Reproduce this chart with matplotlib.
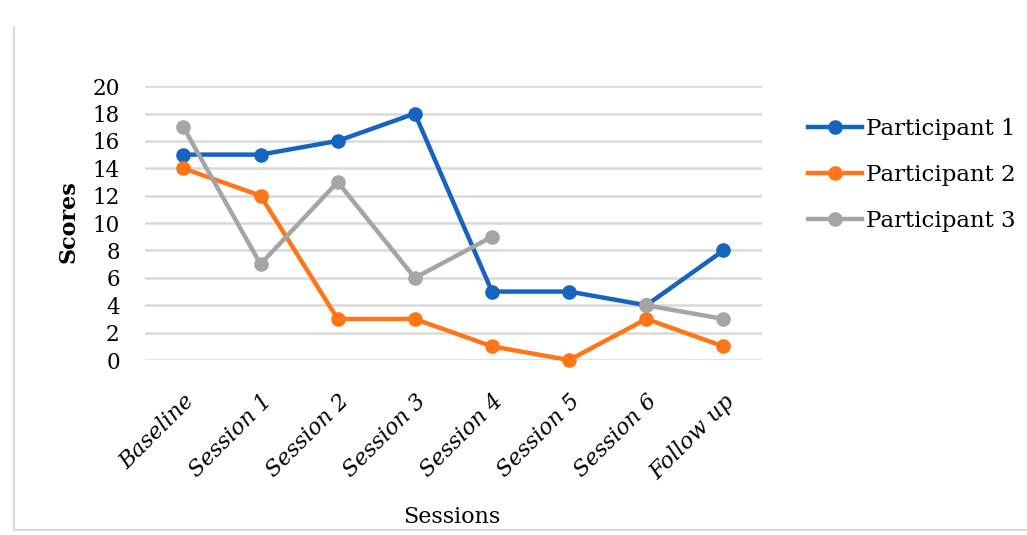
import numpy as np
import matplotlib.pyplot as plt
from matplotlib.lines import Line2D

plt.rcParams['font.family'] = ['DejaVu Serif']

sessions = ['Baseline', 'Session 1', 'Session 2', 'Session 3', 'Session 4',
            'Session 5', 'Session 6', 'Follow up']
participant1 = [15, 15, 16, 18, 5, 5, 4, 8]
participant2 = [14, 12, 3, 3, 1, 0, 3, 1]
participant3 = [17, 7, 13, 6, 9, np.nan, 4, 3]

series = [
    ('Participant 1', participant1, '#1565C0'),
    ('Participant 2', participant2, '#FF7518'),
    ('Participant 3', participant3, '#A5A5A5'),
]

fig = plt.figure(figsize=(10.27, 5.35), dpi=100)
ax = fig.add_axes([0.141, 0.327, 0.601, 0.512])

x = np.arange(len(sessions))
for name, vals, col in series:
    ax.plot(x, vals, color=col, lw=3.2, marker='o', ms=9.5, label=name,
            clip_on=False, zorder=3)

ax.set_xlim(-0.5, len(sessions) - 0.5)
ax.set_ylim(0, 20)
ax.set_yticks(range(0, 21, 2))
ax.set_xticks(x)
ax.set_xticklabels(sessions, rotation=45, ha='right', rotation_mode='anchor',
                   style='italic', fontsize=16)
ax.tick_params(axis='y', labelsize=15.5, length=0, pad=18)
ax.tick_params(axis='x', length=0, pad=22)
ax.grid(axis='y', color='#d9d9d9', lw=1.8)
ax.set_axisbelow(True)
for s in ax.spines.values():
    s.set_visible(False)

fig.text(68 / 1027, 1 - 222 / 535, 'Scores', fontsize=16, fontweight='bold',
         rotation=90, ha='center', va='center')
fig.text(0.44, 0.034, 'Sessions', fontsize=16, ha='center', va='center')

ax.legend(loc='upper left', bbox_to_anchor=(0.787, 0.78),
          bbox_transform=fig.transFigure, frameon=False, borderpad=0,
          borderaxespad=0, fontsize=16.5, handlelength=2.35,
          handletextpad=0.15, labelspacing=1.05)

# chart frame (left and bottom edges visible)
fig.add_artist(Line2D([0.014, 0.014], [0.01, 0.95], color='#d9d9d9', lw=1.5))
fig.add_artist(Line2D([0.014, 1.0], [0.01, 0.01], color='#d9d9d9', lw=1.5))

fig.savefig('out.png', dpi=100)
